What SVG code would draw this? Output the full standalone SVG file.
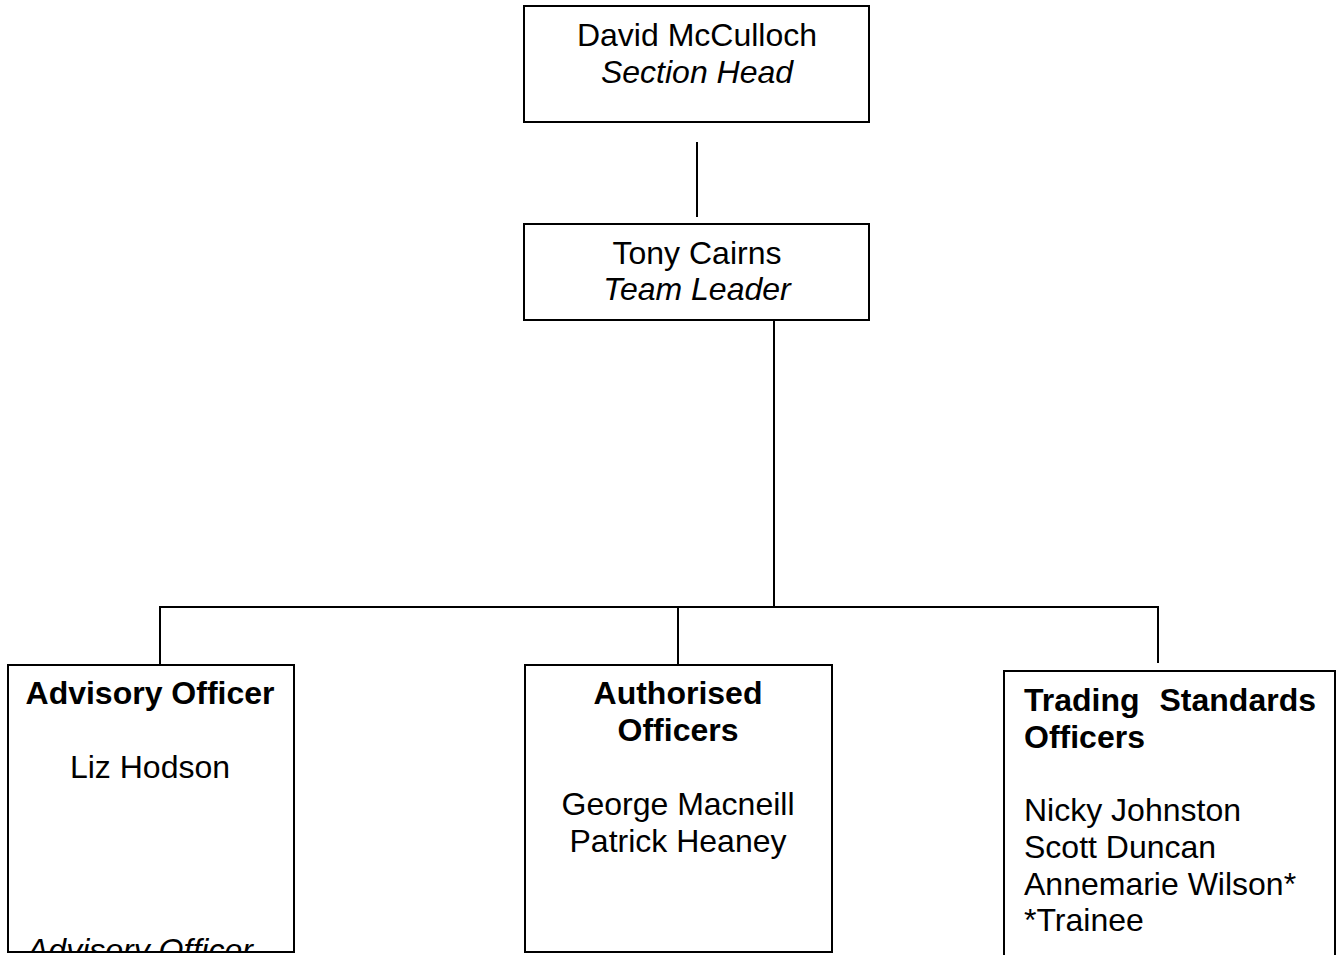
<svg xmlns="http://www.w3.org/2000/svg" width="1339" height="955" viewBox="0 0 1339 955">
<style>
.box{fill:#fff;stroke:#000;stroke-width:2}
.ln{stroke:#000;stroke-width:2;fill:none}
text{font-family:"Liberation Sans",Arial,sans-serif;font-size:32px;fill:#000}
.c{text-anchor:middle}
.b{font-weight:bold}
.i{font-style:italic}
</style>
<defs>
<clipPath id="clipL"><rect x="8" y="665" width="286" height="286"/></clipPath>
</defs>
<rect width="1339" height="955" fill="#fff"/>
<g id="connectors">
<line class="ln" x1="697" y1="142" x2="697" y2="217"/>
<line class="ln" x1="774" y1="320" x2="774" y2="607"/>
<line class="ln" x1="159" y1="607" x2="1159" y2="607"/>
<line class="ln" x1="160" y1="606" x2="160" y2="665"/>
<line class="ln" x1="678" y1="606" x2="678" y2="665"/>
<line class="ln" x1="1158" y1="606" x2="1158" y2="663"/>
</g>
<g id="section-head">
<rect class="box" x="524" y="6" width="345" height="116"/>
<text class="c" x="697" y="46">David McCulloch</text>
<text class="c i" x="697" y="83">Section Head</text>
</g>
<g id="team-leader">
<rect class="box" x="524" y="224" width="345" height="96"/>
<text class="c" x="697" y="264">Tony Cairns</text>
<text class="c i" x="697" y="300">Team Leader</text>
</g>
<g id="advisory">
<rect class="box" x="8" y="665" width="286" height="287"/>
<text class="c b" x="150" y="704">Advisory Officer</text>
<text class="c" x="150" y="778">Liz Hodson</text>
<g clip-path="url(#clipL)"><text class="i" x="27" y="961">Advisory Officer</text></g>
</g>
<g id="authorised">
<rect class="box" x="525" y="665" width="307" height="287"/>
<text class="c b" x="678" y="704">Authorised</text>
<text class="c b" x="678" y="741">Officers</text>
<text class="c" x="678" y="815">George Macneill</text>
<text class="c" x="678" y="852">Patrick Heaney</text>
</g>
<g id="trading-standards">
<rect class="box" x="1004" y="671" width="331" height="300"/>
<text class="b" x="1024" y="711">Trading</text>
<text class="b" x="1316" y="711" text-anchor="end">Standards</text>
<text class="b" x="1024" y="748">Officers</text>
<text x="1024" y="821">Nicky Johnston</text>
<text x="1024" y="858">Scott Duncan</text>
<text x="1024" y="895">Annemarie Wilson*</text>
<text x="1024" y="931">*Trainee</text>
</g>
</svg>
